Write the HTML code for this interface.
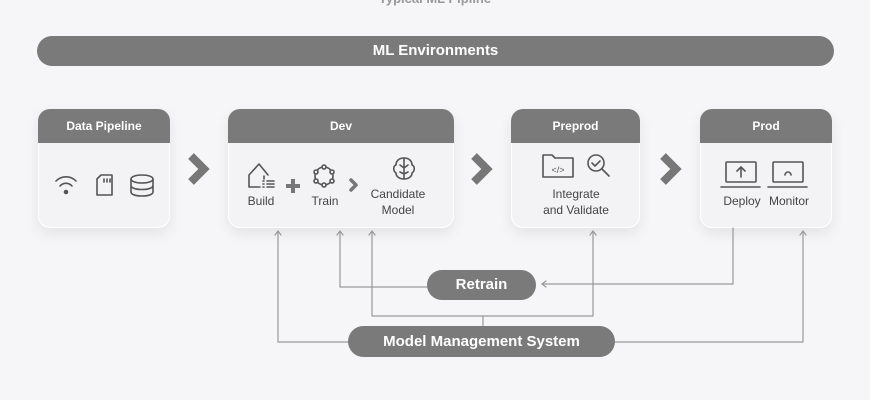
<!DOCTYPE html>
<html><head><meta charset="utf-8"><style>
body{margin:0;width:870px;height:400px;background:#f6f6f8;font-family:"Liberation Sans",sans-serif;position:relative;overflow:hidden}
.a{position:absolute}
.box{position:absolute;background:#f3f3f5;border-radius:12px;box-shadow:0 6px 14px rgba(0,0,0,.08),0 0 0 1px #fff inset;overflow:hidden}
.hd{background:#7a7a7a;color:#fff;font-weight:bold;font-size:12px;text-align:center;height:34px;line-height:34px}
.pill{position:absolute;background:#7a7a7a;color:#fff;font-weight:bold;text-align:center;border-radius:16px}
.lbl{position:absolute;font-size:12px;color:#444;text-align:center;line-height:16px}
</style></head><body>
<div class="a" style="left:0;top:-9px;width:870px;text-align:center;font-weight:bold;font-size:13px;color:#999">Typical ML Pipline</div>
<div class="pill" style="left:37px;top:36px;width:797px;height:30px;line-height:30px;font-size:15px">ML Environments</div>

<div class="box" style="left:38px;top:109px;width:132px;height:119px"><div class="hd">Data Pipeline</div></div>
<div class="box" style="left:228px;top:109px;width:226px;height:119px"><div class="hd">Dev</div></div>
<div class="box" style="left:511px;top:109px;width:129px;height:119px"><div class="hd">Preprod</div></div>
<div class="box" style="left:700px;top:109px;width:132px;height:119px"><div class="hd">Prod</div></div>

<div class="lbl" style="left:238px;top:193px;width:46px">Build</div>
<div class="lbl" style="left:302px;top:193px;width:46px">Train</div>
<div class="lbl" style="left:365px;top:186px;width:66px">Candidate<br>Model</div>
<div class="lbl" style="left:520px;top:186px;width:112px">Integrate<br>and Validate</div>
<div class="lbl" style="left:718px;top:193px;width:48px">Deploy</div>
<div class="lbl" style="left:764px;top:193px;width:50px">Monitor</div>

<svg class="a" style="left:0;top:0" width="870" height="400" fill="none" stroke="#555" stroke-width="1.6" stroke-linecap="round" stroke-linejoin="round">
<!-- chevrons -->
<g stroke="#777" stroke-width="8" stroke-linecap="butt" stroke-linejoin="miter"><path d="M191 156l13 13-13 13"/><path d="M474 156l13 13-13 13"/><path d="M663 156l13 13-13 13"/></g>
<!-- data icons -->
<path d="M56 181a14 14 0 0 1 20 0M60 186a8 8 0 0 1 12 0"/><circle cx="66" cy="192" r="1.5" fill="#555"/>
<path d="M97 179l4-4h11v20h-15z"/><path d="M104 179v3M107 179v3M110 179v3"/>
<ellipse cx="142" cy="179" rx="11" ry="4"/><path d="M131 179v13c0 2.5 5 4 11 4s11-1.5 11-4v-13M131 185.5c0 2.5 5 4 11 4s11-1.5 11-4"/>
<!-- build -->
<path d="M249 187v-12l10-11 9 11M249 187h11M264 176v3M267 181h7M267 184h7M267 187h7M263 181h1M263 184h1M263 187h1"/>
<path stroke="#777" stroke-width="4" stroke-linecap="butt" d="M286 186h14M293 179v14"/>
<!-- train -->
<circle cx="324" cy="176" r="9"/><g fill="#f3f3f5"><circle cx="324" cy="167" r="2"/><circle cx="332" cy="172" r="2"/><circle cx="332" cy="181" r="2"/><circle cx="324" cy="185" r="2"/><circle cx="316" cy="181" r="2"/><circle cx="316" cy="172" r="2"/></g>
<path stroke="#777" stroke-width="3.5" d="M351 180l5 5-5 5"/>
<!-- brain -->
<path d="M404 158c-5 0-8 3-8 7-3 1-3 6 0 8 0 4 4 6 8 6s8-2 8-6c3-2 3-7 0-8 0-4-3-7-8-7zM404 158v21M400 165l4 3 4-3M400 172l4 2 4-2"/>
<!-- preprod -->
<path d="M543 177v-22h9l3 3h18v19z"/><text x="558" y="173" font-size="9" fill="#555" stroke="none" text-anchor="middle">&lt;/&gt;</text>
<circle cx="596" cy="163" r="8"/><path d="M592 163l3 3 5-5M602 169l7 7"/>
<!-- prod -->
<rect x="726" y="162" width="30" height="20" rx="1"/><path d="M721 187h39M741 177v-10M737 171l4-4 4 4"/>
<rect x="773" y="162" width="30" height="20" rx="1"/><path d="M768 187h39M785 175a3 3 0 0 1 6 0"/>
<!-- connectors -->
<g stroke="#999" stroke-width="1.2">
<path d="M278 342V231M340 287V231M372 316V231M593 316V231M483 316v10M372 316h221M340 287h87M733 228v56h-191M348 342h-70M615 342h188V231"/>
<path d="M275 235l3-4 3 4M337 235l3-4 3 4M369 235l3-4 3 4M590 235l3-4 3 4M800 235l3-4 3 4M546 281l-4 3 4 3"/>
</g>
</svg>
<div class="pill" style="left:427px;top:270px;width:109px;height:30px;line-height:30px;font-size:15px">Retrain</div>
<div class="pill" style="left:348px;top:326px;width:267px;height:31px;line-height:31px;font-size:15px">Model Management System</div>
</body></html>
